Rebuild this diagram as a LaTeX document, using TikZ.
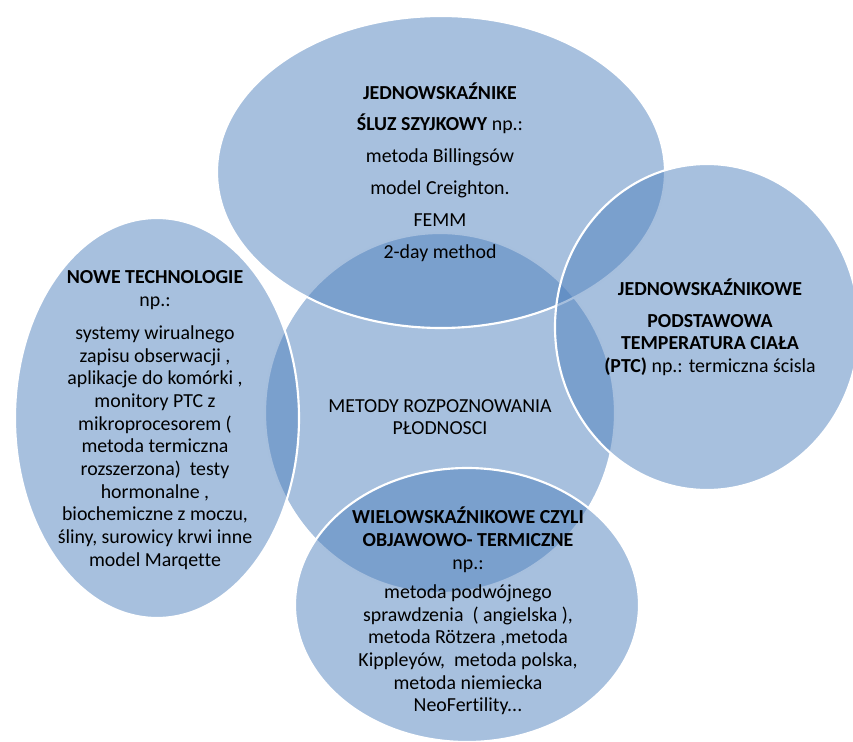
\documentclass[tikz,border=0pt]{standalone}
\usepackage{fontspec}
\setmainfont{Carlito}[Ligatures=NoCommon]
\definecolor{vennblue}{HTML}{4F81BD}

\begin{document}
\begin{tikzpicture}[x=0.75pt,y=-0.75pt,
  blob/.style={fill=vennblue,fill opacity=0.5,draw=white,draw opacity=1,line width=1.6pt},
  txt/.style={align=center,text=black,inner sep=0pt,font=\fontsize{14.9}{17}\selectfont}]

\useasboundingbox (0,0) rectangle (853,742);

% ---------------------------
% centres of the five shapes
% ---------------------------
\coordinate (C) at (440,413);
\coordinate (T) at (441,172);
\coordinate (R) at (707,327);
\coordinate (B) at (467,605);
\coordinate (L) at (157,418);

% ---------------------------
% shapes (order sets which white edge lies on top)
% ---------------------------
\draw[blob] (C) ellipse [x radius=175, y radius=180];
\draw[blob] (T) ellipse [x radius=224, y radius=156];
\draw[blob] (R) ellipse [x radius=152, y radius=163];
\draw[blob] (B) ellipse [x radius=172, y radius=137];
\draw[blob] (L) ellipse [x radius=142, y radius=200];

% ---------------------------
% texts
% ---------------------------
\node[txt] (Ctxt) at (440,417) {METODY ROZPOZNOWANIA\\ PŁODNOSCI};

\node[txt,font=\fontsize{14.9}{23.9}\selectfont] (Ttxt) at (440,172)
  {\textbf{JEDNOWSKAŹNIKE}\\ \textbf{ŚLUZ SZYJKOWY} np.:\\ metoda Billingsów\\
   model Creighton.\\ FEMM\\ 2-day method};

\node[txt] (Rtxt) at (710,327)
  {\textbf{JEDNOWSKAŹNIKOWE}\\[7pt] \textbf{PODSTAWOWA}\\ \textbf{TEMPERATURA CIAŁA}\\
   \textbf{(PTC)} np.: termiczna ścisla};

\node[txt] (Btxt) at (468,611)
  {\textbf{WIELOWSKAŹNIKOWE CZYLI}\\ \textbf{OBJAWOWO- TERMICZNE}\\ np.:\\[5pt]
   metoda podwójnego\\ sprawdzenia\ \ ( angielska ),\\ metoda Rötzera ,metoda\\
   Kippleyów,\ \ metoda polska,\\ metoda niemiecka\\ NeoFertility...};

\node[txt] (Ltxt) at (155,420)
  {\textbf{NOWE TECHNOLOGIE}\\ np.:\\[8pt]
   systemy wirualnego\\ zapisu obserwacji ,\\ aplikacje do komórki ,\\
   monitory PTC z\\ mikroprocesorem (\\ metoda termiczna\\
   rozszerzona)\ \ testy\\ hormonalne ,\\ biochemiczne z moczu,\\
   śliny, surowicy krwi inne\\ model Marqette};

\end{tikzpicture}
\end{document}
